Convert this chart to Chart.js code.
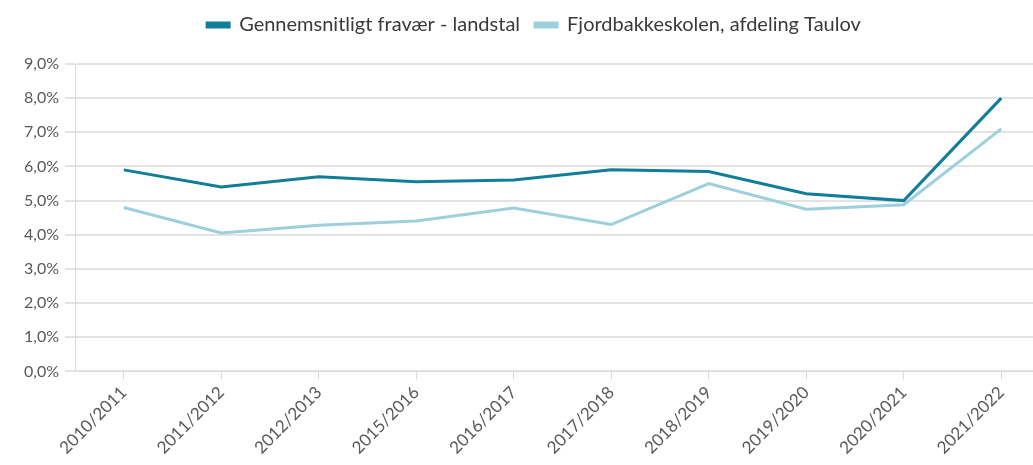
<!DOCTYPE html>
<html>
<head>
<meta charset="utf-8">
<script src="https://cdn.jsdelivr.net/npm/chart.js@4"></script>
<style>
  html, body { margin: 0; padding: 0; background: #fff; overflow: hidden; }
  #wrap { position: relative; width: 1050px; height: 465px; }
</style>
</head>
<body>
<div id="wrap"><canvas id="fravaerGraph"></canvas></div>
<script>
const years = ["2010/2011", "2011/2012", "2012/2013", "2015/2016", "2016/2017",
               "2017/2018", "2018/2019", "2019/2020", "2020/2021", "2021/2022"];
const landstal = [5.9, 5.4, 5.7, 5.55, 5.6, 5.9, 5.85, 5.2, 5.0, 8.0];
const taulov = [4.8, 4.05, 4.28, 4.4, 4.78, 4.3, 5.5, 4.75, 4.88, 7.1];

const fravaerChart = document.getElementById("fravaerGraph").getContext("2d");

function pct(v){
    return v.toFixed(1).replace(".", ",") + "%";
}

// extra room between legend and plot
const legendGap = {
    id: "legendGap",
    beforeInit(chart){
        const fit = chart.legend.fit;
        chart.legend.fit = function(){
            fit.bind(chart.legend)();
            this.height += 19;
        };
    }
};

let chart = new Chart(fravaerChart, {
    type: "line",
    data: {
        labels: years,
        datasets: [{
            label: "Gennemsnitligt fravær - landstal",
            data: landstal,
            borderColor: "#107d99",
            backgroundColor: "#107d99",
            borderWidth: 3,
            pointRadius: 0,
            tension: 0
        }, {
            label: "Fjordbakkeskolen, afdeling Taulov",
            data: taulov,
            borderColor: "#9dcfdc",
            backgroundColor: "#9dcfdc",
            borderWidth: 3,
            pointRadius: 0,
            tension: 0
        }]
    },
    options: {
        responsive: true,
        maintainAspectRatio: false,
        animation: false,
        layout: {
            padding: { left: 18, right: 0, top: 0, bottom: 4 }
        },
        plugins: {
            legend: {
                display: true,
                labels: {
                    boxWidth: 22,
                    boxHeight: 4,
                    padding: 15,
                    color: "#3a3a3a",
                    font: { family: "Lato", size: 20 }
                }
            },
            tooltip: { enabled: false }
        },
        scales: {
            x: {
                offset: true,
                grid: {
                    offset: false,
                    drawOnChartArea: false,
                    color: "#d9d9d9",
                    tickLength: 8
                },
                border: { color: "#d9d9d9", width: 1 },
                ticks: {
                    minRotation: 45,
                    maxRotation: 45,
                    color: "#595959",
                    font: { family: "Lato", size: 17 }
                }
            },
            y: {
                min: 0,
                max: 9,
                grid: {
                    color: "#e3e3e3",
                    lineWidth: 2,
                    tickLength: 10
                },
                border: { color: "#d9d9d9", width: 1 },
                ticks: {
                    stepSize: 1,
                    padding: 6,
                    color: "#595959",
                    font: { family: "Lato", size: 16 },
                    callback: function(value){ return pct(value); }
                }
            }
        }
    },
    plugins: [legendGap]
});
</script>
</body>
</html>
